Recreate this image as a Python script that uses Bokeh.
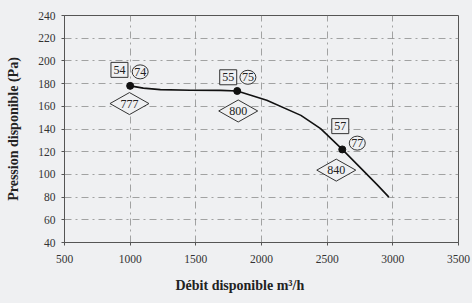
from bokeh.plotting import figure
from bokeh.models import Range1d, FixedTicker, Title
from bokeh.core.properties import value
from bokeh.embed import file_html
from bokeh.resources import INLINE

# ---- data ----
curve_x = [1000, 1100, 1230, 1460, 1690, 1815, 2040, 2300, 2450, 2615, 2880, 2970]
curve_y = [178, 176, 174.7, 174.1, 174, 173.5, 165.3, 152, 140.3, 122, 91, 80]
point_x = [1000, 1815, 2615]
point_y = [178, 173.5, 122]
box_labels = ["54", "55", "57"]
circle_labels = ["74", "75", "77"]
diamond_labels = ["777", "800", "840"]
x_ticks = [500, 1000, 1500, 2000, 2500, 3000, 3500]
y_ticks = [40, 60, 80, 100, 120, 140, 160, 180, 200, 220, 240]

# ---- layout / style (pixel offsets of annotations from their point) ----
box_off = [(-10.7, -16), (-9, -13.7), (-2, -23.3)]
circ_off = [(10, -14), (10.7, -13.7), (15, -6.3)]
diam_off = [(-0.7, 17.7), (1, 20), (-6, 20.7)]
BG = "#eff0f2"
SERIF = "Liberation Serif"
FRAME_W, FRAME_H = 394, 227

p = figure(width=472, height=303, output_backend="svg", toolbar_location=None,
           x_range=Range1d(x_ticks[0], x_ticks[-1]), y_range=Range1d(y_ticks[0], y_ticks[-1]),
           min_border_left=64, min_border_right=14, min_border_top=15, min_border_bottom=20)
p.background_fill_color = BG
p.border_fill_color = BG
p.outline_line_color = "#555555"

kx = (x_ticks[-1] - x_ticks[0]) / FRAME_W
ky = (y_ticks[-1] - y_ticks[0]) / FRAME_H

for ax in (p.xaxis, p.yaxis):
    ax.axis_line_color = "#555555"
    ax.major_tick_line_color = "#555555"
    ax.major_tick_in = 0
    ax.major_tick_out = 3
    ax.minor_tick_line_color = None
    ax.major_label_text_font = SERIF
    ax.major_label_text_font_size = "11.5px"
    ax.major_label_text_color = "#333333"
p.xaxis.ticker = FixedTicker(ticks=x_ticks)
p.yaxis.ticker = FixedTicker(ticks=y_ticks)
p.xaxis.major_label_standoff = 9
p.yaxis.major_label_standoff = 6
p.yaxis.axis_label = "Pression disponible (Pa)"
p.yaxis.axis_label_text_font = SERIF
p.yaxis.axis_label_text_font_size = "14px"
p.yaxis.axis_label_text_font_style = "bold"
p.yaxis.axis_label_text_color = "#222222"
p.yaxis.axis_label_standoff = 14

for g in (p.xgrid, p.ygrid):
    g.grid_line_color = "#808080"
    g.grid_line_alpha = 0.7
    g.grid_line_dash = "7 4 2 4"
    g.grid_line_width = 1
p.xgrid.ticker = FixedTicker(ticks=x_ticks)
p.ygrid.ticker = FixedTicker(ticks=y_ticks)

xt = Title(text="Débit disponible m³/h", align="left", offset=111,
           text_font=SERIF, text_font_size="14px", text_font_style="bold",
           text_color="#222222", standoff=21)
p.add_layout(xt, "below")

p.line(curve_x, curve_y, line_color="#111111", line_width=1.6)
p.scatter(point_x, point_y, size=7, color="#111111")

def shift(offs):
    xs = [px + dx * kx for px, (dx, dy) in zip(point_x, offs)]
    ys = [py - dy * ky for py, (dx, dy) in zip(point_y, offs)]
    return xs, ys

bx, by = shift(box_off)
cx, cy = shift(circ_off)
dx_, dy_ = shift(diam_off)

p.rect(bx, by, width=17, height=15, width_units="screen", height_units="screen",
       fill_color=BG, line_color="#333333", line_width=1)
p.ellipse(cx, cy, width=16, height=14, width_units="screen", height_units="screen",
          fill_color=BG, line_color="#333333", line_width=1)
hw, hh = 19.5 * kx, 11 * ky
p.patches([[x - hw, x, x + hw, x] for x in dx_],
          [[y, y + hh, y, y - hh] for y in dy_],
          fill_color=BG, line_color="#333333", line_width=1)

for xs, ys, labels in ((bx, by, box_labels), (cx, cy, circle_labels), (dx_, dy_, diamond_labels)):
    p.text(xs, ys, text=labels, text_align="center", text_baseline="middle",
           text_font=value(SERIF), text_font_size="12px", text_color="#222222")

html = file_html(p, INLINE)
html = html.replace("</head>", "<style>body{background:%s}</style></head>" % BG, 1)
open("out.html", "w").write(html)
